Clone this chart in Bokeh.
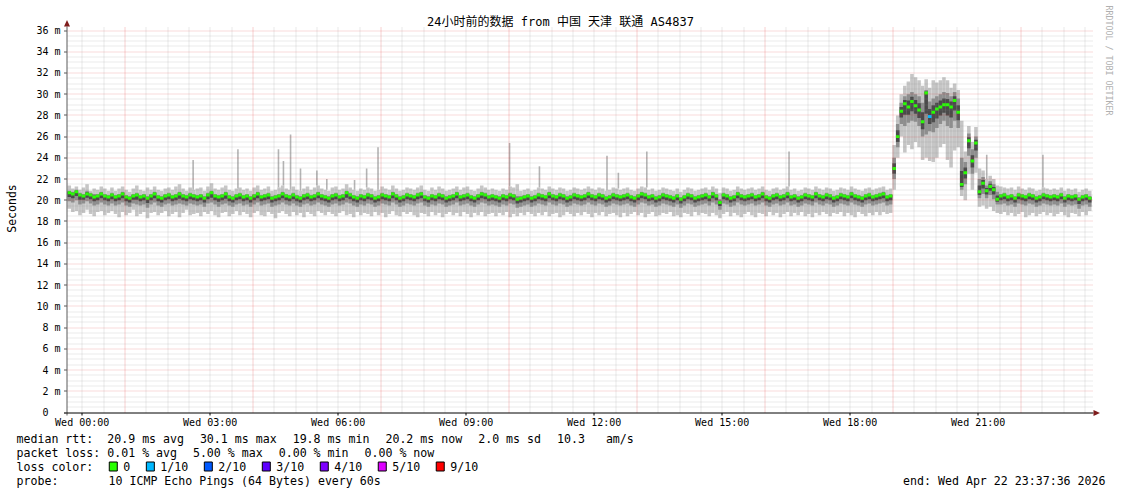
import math
from bokeh.plotting import figure
from bokeh.models import Range1d, FixedTicker, ColumnDataSource
from bokeh.core.properties import value
from bokeh.embed import file_html
from bokeh.resources import INLINE

# ---------------- data ----------------
END_TEXT = "end: Wed Apr 22 23:37:36 2026"
STEP_MIN = 5                      # one smoke column every 5 minutes
START_HOUR = -0.3445              # hours relative to Wed 00:00 (start of the 24h window)

median = [
    20.7, 20.6, 20.8, 20.5, 20.4, 20.6, 20.5, 20.3, 20.4, 20.6, 20.4, 20.3,
    20.5, 20.3, 20.4, 20.6, 20.3, 20.2, 20.4, 20.5, 20.3, 20.4, 20.2, 20.4,
    20.6, 20.3, 20.2, 20.4, 20.5, 20.3, 20.4, 20.6, 20.4, 20.3, 20.5, 20.4,
    20.3, 20.4, 20.2, 20.5, 20.7, 20.4, 20.3, 20.4, 20.6, 20.3, 20.2, 20.4,
    20.5, 20.3, 20.4, 20.2, 20.4, 20.6, 20.3, 20.4, 20.5, 20.2, 20.3, 20.4,
    20.6, 20.4, 20.3, 20.5, 20.3, 20.2, 20.4, 20.5, 20.3, 20.4, 20.6, 20.4,
    20.3, 20.2, 20.4, 20.5, 20.3, 20.4, 20.7, 20.5, 20.3, 20.2, 20.4, 20.3,
    20.5, 20.4, 20.2, 20.3, 20.5, 20.4, 20.3, 20.6, 20.4, 20.2, 20.3, 20.5,
    20.4, 20.3, 20.5, 20.6, 20.3, 20.2, 20.4, 20.3, 20.5, 20.4, 20.2, 20.3,
    20.4, 20.6, 20.3, 20.4, 20.5, 20.3, 20.2, 20.4, 20.6, 20.5, 20.3, 20.4,
    20.3, 20.2, 20.4, 20.3, 20.5, 20.4, 20.1, 20.2, 20.3, 20.4, 20.2, 20.3,
    20.5, 20.4, 20.3, 20.6, 20.4, 20.3, 20.5, 20.4, 20.2, 20.3, 20.5, 20.4,
    20.3, 20.4, 20.6, 20.4, 20.3, 20.5, 20.4, 20.2, 20.3, 20.5, 20.4, 20.3,
    20.4, 20.5, 20.3, 20.2, 20.4, 20.6, 20.5, 20.3, 20.4, 20.2, 20.3, 20.5,
    20.4, 20.3, 20.2, 20.4, 20.1, 20.3, 20.5, 20.4, 20.2, 20.3, 20.4, 20.5,
    20.3, 20.6, 20.4, 19.8, 20.5, 20.4, 20.2, 20.3, 20.6, 20.4, 20.3, 20.4,
    20.5, 20.3, 20.4, 20.6, 20.3, 20.2, 20.4, 20.5, 20.3, 20.4, 20.6, 20.3,
    20.4, 20.2, 20.3, 20.5, 20.4, 20.3, 20.6, 20.4, 20.3, 20.5, 20.4, 20.2,
    20.3, 20.5, 20.4, 20.3, 20.6, 20.4, 20.3, 20.2, 20.4, 20.5, 20.3, 20.4,
    20.5, 20.6, 20.3, 20.4, 23.0, 26.0, 28.4, 29.1, 28.8, 29.3, 28.9, 28.5,
    27.4, 30.1, 27.9, 28.3, 28.6, 28.8, 29.0, 29.0, 28.8, 29.4, 28.3, 21.5,
    22.6, 25.6, 23.7, 25.4, 20.8, 21.6, 20.9, 21.3, 21.0, 20.1, 20.4, 20.5,
    20.3, 20.4, 20.2, 20.5, 20.4, 20.3, 20.5, 20.4, 20.2, 20.3, 20.5, 20.4,
    20.3, 20.4, 20.3, 20.5, 20.2, 20.4, 20.3, 20.4, 20.1, 20.3, 20.4, 20.2,
]

smoke_lo = [
    19.2, 18.9, 19.0, 18.6, 18.8, 19.1, 18.7, 18.5, 18.9, 19.0, 18.6, 18.8,
    19.0, 18.7, 18.4, 18.9, 18.6, 18.8, 19.1, 18.5, 18.7, 18.9, 18.3, 18.8,
    18.9, 18.6, 18.8, 19.0, 18.5, 18.7, 18.9, 18.4, 18.8, 19.1, 18.6, 18.7,
    18.8, 18.5, 18.9, 18.7, 19.0, 18.6, 18.4, 18.8, 18.9, 18.5, 18.7, 19.0,
    18.6, 18.9, 18.7, 18.4, 18.8, 19.0, 18.6, 18.5, 18.9, 18.7, 18.3, 18.8,
    19.0, 18.7, 18.5, 18.9, 18.6, 18.8, 18.4, 18.9, 18.7, 18.5, 19.0, 18.8,
    18.6, 18.9, 18.7, 18.5, 18.8, 19.0, 18.6, 18.7, 18.4, 18.9, 18.6, 18.8,
    18.7, 18.5, 18.9, 18.6, 18.8, 18.4, 18.7, 19.0, 18.6, 18.5, 18.9, 18.7,
    18.9, 18.6, 18.4, 18.8, 18.7, 18.5, 18.9, 18.6, 18.8, 18.4, 18.7, 18.9,
    18.6, 18.8, 18.5, 18.9, 18.7, 18.4, 18.8, 18.6, 18.9, 18.5, 18.7, 18.8,
    18.5, 18.8, 18.6, 18.9, 18.4, 18.7, 18.5, 18.8, 18.6, 18.9, 18.7, 18.5,
    18.8, 18.6, 18.9, 18.5, 18.7, 18.8, 18.4, 18.6, 18.9, 18.7, 18.5, 18.8,
    18.6, 18.9, 18.7, 18.4, 18.8, 18.6, 18.9, 18.5, 18.7, 18.8, 18.6, 18.4,
    18.8, 18.5, 18.7, 18.9, 18.6, 18.8, 18.4, 18.7, 18.9, 18.5, 18.6, 18.8,
    18.7, 18.9, 18.5, 18.6, 18.4, 18.8, 18.7, 18.5, 18.9, 18.6, 18.8, 18.7,
    18.5, 18.8, 18.6, 18.3, 18.7, 18.9, 18.5, 18.8, 18.6, 18.4, 18.7, 18.9,
    18.6, 18.4, 18.8, 18.7, 18.5, 18.9, 18.6, 18.8, 18.4, 18.7, 18.9, 18.5,
    18.8, 18.6, 18.9, 18.5, 18.7, 18.4, 18.8, 18.6, 18.9, 18.7, 18.5, 18.8,
    18.7, 18.9, 18.5, 18.8, 18.6, 18.4, 18.9, 18.7, 18.5, 18.8, 18.6, 18.9,
    18.6, 18.9, 18.7, 18.8, 21.0, 24.0, 26.0, 24.5, 25.2, 24.8, 25.5, 25.0,
    23.8, 24.0, 23.7, 23.6, 24.0, 25.0, 25.3, 23.8, 23.1, 24.7, 25.0, 20.4,
    20.0, 22.5, 21.0, 22.6, 19.4, 19.5, 19.2, 19.4, 19.0, 18.8, 18.7, 18.9,
    18.6, 18.8, 18.5, 18.7, 18.9, 18.4, 18.6, 18.8, 18.5, 18.7, 18.9, 18.6,
    18.8, 18.5, 18.7, 18.9, 18.6, 18.4, 18.8, 18.7, 18.5, 18.9, 18.6, 19.0,
]

smoke_hi = [
    21.4, 21.1, 21.3, 21.0, 21.2, 21.5, 20.9, 21.1, 21.0, 21.3, 21.1, 20.9,
    21.2, 20.9, 21.1, 21.3, 21.0, 20.8, 21.1, 21.4, 21.0, 20.9, 21.2, 21.0,
    21.3, 21.0, 20.9, 21.1, 21.2, 21.0, 21.3, 21.5, 21.1, 20.9, 21.2, 21.0,
    21.1, 21.2, 20.9, 21.3, 21.6, 21.1, 21.0, 21.2, 21.4, 21.0, 20.9, 21.1,
    21.2, 21.0, 21.1, 20.9, 21.2, 21.4, 21.0, 21.1, 21.3, 20.9, 21.0, 21.2,
    21.4, 21.1, 21.0, 21.3, 21.0, 20.9, 21.1, 21.3, 21.0, 21.2, 21.4, 21.1,
    21.0, 20.9, 21.2, 21.3, 21.0, 21.1, 21.5, 21.2, 21.0, 20.9, 21.1, 21.0,
    21.2, 21.1, 20.9, 21.0, 21.3, 21.1, 21.0, 21.4, 21.1, 20.9, 21.0, 21.2,
    21.1, 21.0, 21.2, 21.4, 21.0, 20.9, 21.2, 21.0, 21.3, 21.1, 20.9, 21.0,
    21.1, 21.3, 21.0, 21.2, 21.3, 21.0, 20.9, 21.1, 21.4, 21.2, 21.0, 21.1,
    21.0, 20.9, 21.1, 21.0, 21.3, 21.2, 21.5, 20.9, 21.0, 21.1, 20.9, 21.0,
    21.2, 21.1, 21.0, 21.3, 21.1, 21.0, 21.2, 21.1, 20.9, 21.0, 21.2, 21.1,
    21.0, 21.1, 21.3, 21.1, 21.0, 21.2, 21.1, 20.9, 21.0, 21.2, 21.1, 21.0,
    21.1, 21.2, 21.0, 20.9, 21.1, 21.3, 21.2, 21.0, 21.1, 20.9, 21.0, 21.2,
    21.1, 21.0, 20.9, 21.1, 20.8, 21.0, 21.2, 21.1, 20.9, 21.0, 21.1, 21.2,
    21.0, 21.3, 21.1, 20.7, 21.2, 21.1, 20.9, 21.0, 21.3, 21.1, 21.0, 21.1,
    21.2, 21.0, 21.1, 21.3, 21.0, 20.9, 21.1, 21.2, 21.0, 21.1, 21.3, 21.0,
    21.1, 20.9, 21.0, 21.2, 21.1, 21.0, 21.3, 21.1, 21.0, 21.2, 21.1, 20.9,
    21.0, 21.2, 21.1, 21.0, 21.3, 21.1, 21.0, 20.9, 21.1, 21.2, 21.0, 21.1,
    21.2, 21.3, 21.0, 21.1, 25.2, 28.0, 30.0, 30.8, 31.2, 31.9, 31.6, 31.3,
    30.8, 31.4, 30.6, 31.3, 31.1, 31.3, 31.6, 31.3, 30.6, 31.0, 30.4, 27.5,
    24.6, 27.0, 25.5, 26.9, 23.0, 22.8, 22.0, 22.3, 22.0, 21.4, 21.3, 21.2,
    21.1, 21.2, 21.0, 21.3, 21.1, 21.0, 21.2, 21.1, 20.9, 21.0, 21.2, 21.1,
    21.0, 21.1, 21.0, 21.2, 20.9, 21.1, 21.0, 21.1, 20.8, 21.0, 21.1, 20.9,
]

inner_lo = [
    19.9, 19.8, 20.0, 19.6, 19.7, 19.9, 19.7, 19.5, 19.6, 19.8, 19.6, 19.5,
    19.7, 19.5, 19.6, 19.8, 19.5, 19.4, 19.7, 19.6, 19.5, 19.6, 19.3, 19.6,
    19.8, 19.5, 19.4, 19.6, 19.7, 19.5, 19.6, 19.7, 19.6, 19.5, 19.7, 19.6,
    19.5, 19.6, 19.4, 19.7, 19.8, 19.6, 19.4, 19.6, 19.7, 19.5, 19.4, 19.6,
    19.7, 19.5, 19.6, 19.4, 19.6, 19.8, 19.5, 19.6, 19.7, 19.4, 19.5, 19.6,
    19.8, 19.6, 19.5, 19.7, 19.5, 19.4, 19.6, 19.7, 19.5, 19.6, 19.8, 19.6,
    19.5, 19.4, 19.6, 19.7, 19.5, 19.6, 19.8, 19.7, 19.5, 19.4, 19.6, 19.5,
    19.7, 19.6, 19.4, 19.5, 19.7, 19.6, 19.5, 19.8, 19.6, 19.4, 19.5, 19.7,
    19.6, 19.5, 19.7, 19.8, 19.5, 19.4, 19.6, 19.5, 19.7, 19.6, 19.4, 19.5,
    19.6, 19.8, 19.5, 19.6, 19.7, 19.5, 19.4, 19.6, 19.8, 19.7, 19.5, 19.6,
    19.5, 19.4, 19.6, 19.5, 19.7, 19.6, 19.3, 19.4, 19.5, 19.6, 19.4, 19.5,
    19.7, 19.6, 19.5, 19.8, 19.6, 19.5, 19.7, 19.6, 19.4, 19.5, 19.7, 19.6,
    19.5, 19.6, 19.8, 19.6, 19.5, 19.7, 19.6, 19.4, 19.5, 19.7, 19.6, 19.5,
    19.6, 19.7, 19.5, 19.4, 19.6, 19.8, 19.7, 19.5, 19.6, 19.4, 19.5, 19.7,
    19.6, 19.5, 19.4, 19.6, 19.3, 19.5, 19.7, 19.6, 19.4, 19.5, 19.6, 19.7,
    19.5, 19.8, 19.6, 19.1, 19.7, 19.6, 19.4, 19.5, 19.8, 19.6, 19.5, 19.6,
    19.7, 19.5, 19.6, 19.8, 19.5, 19.4, 19.6, 19.7, 19.5, 19.6, 19.8, 19.5,
    19.6, 19.4, 19.5, 19.7, 19.6, 19.5, 19.8, 19.6, 19.5, 19.7, 19.6, 19.4,
    19.5, 19.7, 19.6, 19.5, 19.8, 19.6, 19.5, 19.4, 19.6, 19.7, 19.5, 19.6,
    19.7, 19.8, 19.5, 19.6, 22.0, 25.0, 27.2, 27.0, 27.3, 27.5, 27.4, 27.0,
    26.0, 26.2, 26.5, 26.4, 26.8, 27.2, 27.5, 27.0, 26.8, 27.5, 26.8, 21.0,
    21.5, 24.2, 22.5, 24.0, 20.2, 20.6, 20.2, 20.5, 20.1, 19.6, 19.6, 19.7,
    19.5, 19.6, 19.4, 19.7, 19.6, 19.5, 19.7, 19.6, 19.4, 19.5, 19.7, 19.6,
    19.5, 19.6, 19.5, 19.7, 19.4, 19.6, 19.5, 19.6, 19.2, 19.5, 19.6, 19.4,
]

inner_hi = [
    20.9, 20.8, 21.0, 20.7, 20.6, 20.9, 20.7, 20.6, 20.6, 20.8, 20.6, 20.5,
    20.7, 20.5, 20.6, 20.8, 20.5, 20.4, 20.6, 20.7, 20.5, 20.6, 20.4, 20.6,
    20.8, 20.5, 20.4, 20.6, 20.7, 20.5, 20.6, 20.8, 20.6, 20.5, 20.7, 20.6,
    20.5, 20.6, 20.4, 20.7, 20.9, 20.6, 20.5, 20.6, 20.8, 20.5, 20.4, 20.6,
    20.7, 20.5, 20.6, 20.4, 20.6, 20.8, 20.5, 20.6, 20.7, 20.4, 20.5, 20.6,
    20.8, 20.6, 20.5, 20.7, 20.5, 20.4, 20.6, 20.7, 20.5, 20.6, 20.8, 20.6,
    20.5, 20.4, 20.6, 20.7, 20.5, 20.6, 20.9, 20.7, 20.5, 20.4, 20.6, 20.5,
    20.7, 20.6, 20.4, 20.5, 20.7, 20.6, 20.5, 20.8, 20.6, 20.4, 20.5, 20.7,
    20.6, 20.5, 20.7, 20.8, 20.5, 20.4, 20.6, 20.5, 20.7, 20.6, 20.4, 20.5,
    20.6, 20.8, 20.5, 20.6, 20.7, 20.5, 20.4, 20.6, 20.8, 20.7, 20.5, 20.6,
    20.5, 20.4, 20.6, 20.5, 20.7, 20.6, 20.4, 20.4, 20.5, 20.6, 20.4, 20.5,
    20.7, 20.6, 20.5, 20.8, 20.6, 20.5, 20.7, 20.6, 20.4, 20.5, 20.7, 20.6,
    20.5, 20.6, 20.8, 20.6, 20.5, 20.7, 20.6, 20.4, 20.5, 20.7, 20.6, 20.5,
    20.6, 20.7, 20.5, 20.4, 20.6, 20.8, 20.7, 20.5, 20.6, 20.4, 20.5, 20.7,
    20.6, 20.5, 20.4, 20.6, 20.3, 20.5, 20.7, 20.6, 20.4, 20.5, 20.6, 20.7,
    20.5, 20.8, 20.6, 20.1, 20.7, 20.6, 20.4, 20.5, 20.8, 20.6, 20.5, 20.6,
    20.7, 20.5, 20.6, 20.8, 20.5, 20.4, 20.6, 20.7, 20.5, 20.6, 20.8, 20.5,
    20.6, 20.4, 20.5, 20.7, 20.6, 20.5, 20.8, 20.6, 20.5, 20.7, 20.6, 20.4,
    20.5, 20.7, 20.6, 20.5, 20.8, 20.6, 20.5, 20.4, 20.6, 20.7, 20.5, 20.6,
    20.7, 20.8, 20.5, 20.6, 24.0, 27.2, 29.2, 29.8, 30.0, 30.2, 30.0, 29.8,
    29.2, 30.4, 29.3, 29.6, 29.8, 30.0, 30.2, 30.1, 29.8, 30.2, 29.6, 24.0,
    23.6, 26.3, 24.8, 26.0, 22.0, 22.2, 21.4, 21.8, 21.5, 20.8, 20.6, 20.7,
    20.5, 20.6, 20.4, 20.7, 20.6, 20.5, 20.7, 20.6, 20.4, 20.5, 20.7, 20.6,
    20.5, 20.6, 20.5, 20.7, 20.4, 20.6, 20.5, 20.6, 20.3, 20.5, 20.6, 20.4,
]

loss_bins = [242]          # column index with packet loss
loss_counts = [1]          # lost pings out of 10

spike_times = ["02:36", "03:39", "04:36", "04:43", "04:53", "05:07", "05:30", "05:44",
               "06:23", "06:40", "06:56", "10:01", "10:43", "12:18", "12:34", "13:14",
               "16:34", "21:12", "22:31"]
spike_tops = [23.8, 24.8, 24.8, 23.7, 26.2, 23.0, 22.8, 22.0,
              21.9, 23.0, 25.0, 25.4, 23.2, 24.2, 22.6, 24.6,
              24.6, 24.3, 24.3]

x_tick_hours = [0, 3, 6, 9, 12, 15, 18, 21]
x_tick_labels = ["Wed 00:00", "Wed 03:00", "Wed 06:00", "Wed 09:00",
                 "Wed 12:00", "Wed 15:00", "Wed 18:00", "Wed 21:00"]
y_tick_values = [0, 2, 4, 6, 8, 10, 12, 14, 16, 18, 20, 22, 24, 26, 28, 30, 32, 34, 36]
y_tick_labels = ["0\u00a0\u00a0", "2 m", "4 m", "6 m", "8 m", "10 m", "12 m", "14 m", "16 m",
                 "18 m", "20 m", "22 m", "24 m", "26 m", "28 m", "30 m", "32 m", "34 m", "36 m"]
major_grid_hours = [1, 4, 7, 10, 13, 16, 19, 22]

loss_legend_labels = ["0", "1/10", "2/10", "3/10", "4/10", "5/10", "9/10"]
loss_legend_counts = [0, 1, 2, 3, 4, 5, 9]
loss_legend_colors = ["#26ff00", "#00b8ff", "#0059ff", "#5e00ff", "#7e00ff", "#dd00ff", "#ff0000"]

TITLE = "24小时前的数据 from 中国 天津 联通 AS4837"
rtt_items = ["median rtt:  20.9 ms avg", "30.1 ms max", "19.8 ms min", "20.2 ms now",
             "2.0 ms sd", "10.3   am/s"]
loss_items = ["packet loss: 0.01 % avg", "5.00 % max", "0.00 % min", "0.00 % now"]
color_head = "loss color:"
probe_head = "probe:"
probe_text = "10 ICMP Echo Pings (64 Bytes) every 60s"

# ---------------- layout (page pixels) ----------------
PX_H = 1024 / 24.0        # pixels per hour
PX_MS = 382 / 36.0        # pixels per millisecond
AX_X, AX_Y = 67, 412      # axis origin on the page
GRAPH_RIGHT = 1093
GRAPH_TOP = 26
MONO = "DejaVu Sans Mono"
CHAR_W = 6.97             # advance of the 11.6px mono legend font
ITEM_GAP = 16.1           # rrdtool gap between legend items


def dx(sx):
    return START_HOUR + (sx - AX_X) / PX_H


def dy(sy):
    return (AX_Y - sy) / PX_MS


def sx_of(h):
    return AX_X + (h - START_HOUR) * PX_H


def sy_of(v):
    return AX_Y - v * PX_MS


n = len(median)
assert all(len(a) == n for a in (smoke_lo, smoke_hi, inner_lo, inner_hi))
step_h = STEP_MIN / 60.0
left = [START_HOUR + i * step_h for i in range(n)]
right = [l + step_h for l in left]
core_lo = [(a + m) / 2 for a, m in zip(inner_lo, median)]
core_hi = [(b + m) / 2 for b, m in zip(inner_hi, median)]
loss = [0] * n
for b, c in zip(loss_bins, loss_counts):
    loss[b] = c
col_of = dict(zip(loss_legend_counts, loss_legend_colors))
med_color = [col_of.get(c, "#ff0000") for c in loss]

src = ColumnDataSource(dict(left=left, right=right, lo=smoke_lo, hi=smoke_hi,
                            ilo=inner_lo, ihi=inner_hi, clo=core_lo, chi=core_hi,
                            med_lo=[m - 0.14 for m in median], med_hi=[m + 0.14 for m in median],
                            mcol=med_color))

W, H_MAIN, H_LEG = 1121, 432, 62
FRAME_L, FRAME_B = 63, 416
p = figure(width=W, height=H_MAIN, frame_width=W - FRAME_L, frame_height=FRAME_B,
           min_border_left=FRAME_L, min_border_right=0, min_border_top=0, min_border_bottom=H_MAIN - FRAME_B,
           x_range=Range1d(dx(FRAME_L), dx(W)), y_range=Range1d(dy(FRAME_B), dy(0)),
           output_backend="svg", toolbar_location=None, title_location=None)
p.background_fill_color = "white"
p.border_fill_color = "white"
p.outline_line_color = None
p.xgrid.visible = False
p.ygrid.visible = False

# smoke
p.quad(left="left", right="right", bottom="lo", top="hi", source=src, fill_color="#c6c6c6", line_color=None)
sp_x, sp_base = [], []
for t in spike_times:
    hh, mm = t.split(":")
    h = int(hh) + int(mm) / 60.0
    sp_x.append(h)
    sp_base.append(smoke_hi[min(n - 1, int((h - START_HOUR) / step_h))])
p.segment(x0=sp_x, x1=sp_x, y0=sp_base, y1=spike_tops, line_color="#b4b4b4", line_width=1.6)
p.quad(left="left", right="right", bottom="ilo", top="ihi", source=src, fill_color="#8e8e8e", line_color=None)
p.quad(left="left", right="right", bottom="clo", top="chi", source=src, fill_color="#4a4a4a", line_color=None)
p.quad(left="left", right="right", bottom="med_lo", top="med_hi", source=src, fill_color="mcol", line_color=None)


# grid (dotted, drawn over the smoke like rrdtool), snapped to pixel centres
def snap_x(h):
    return dx(round(sx_of(h) - 0.5) + 0.5)


def snap_y(v):
    return dy(round(sy_of(v) - 0.5) + 0.5)


minor_x = [k * 0.5 for k in range(0, 48) if k * 0.5 not in major_grid_hours]
major_y = [v for v in y_tick_values if v > 0]
minor_y = [k * 0.5 for k in range(1, 73) if k * 0.5 not in y_tick_values]
y_top, x_end = dy(GRAPH_TOP), dx(GRAPH_RIGHT)
for xs, colr, alpha in ((minor_x, "#8c8c8c", 0.4), (major_grid_hours, "#e03030", 0.45)):
    xx = [snap_x(h) for h in xs]
    p.segment(x0=xx, x1=xx, y0=[0] * len(xx), y1=[y_top] * len(xx),
              line_color=colr, line_alpha=alpha, line_width=1, line_dash="1 1")
for ys, colr, alpha in ((minor_y, "#8c8c8c", 0.35), (major_y, "#e03030", 0.35)):
    yy = [snap_y(v) for v in ys]
    p.segment(x0=[START_HOUR] * len(yy), x1=[x_end] * len(yy), y0=yy, y1=yy,
              line_color=colr, line_alpha=alpha, line_width=1, line_dash="1 1")

# axis lines, tick marks and arrow heads (the Bokeh axes carry the tick labels)
ax_x, ax_y = dx(66.5), dy(412.5)
p.segment(x0=[ax_x], x1=[ax_x], y0=[dy(415)], y1=[dy(GRAPH_TOP)], line_color="#5a5a5a", line_width=1)
p.segment(x0=[dx(63.5)], x1=[dx(GRAPH_RIGHT)], y0=[ax_y], y1=[ax_y], line_color="#000000", line_width=1)
yt = [snap_y(v) for v in y_tick_values]
p.segment(x0=[dx(63.5)] * len(yt), x1=[ax_x] * len(yt), y0=yt, y1=yt, line_color="#5a5a5a", line_width=1)
xt = [snap_x(h) for h in x_tick_hours]
p.segment(x0=xt, x1=xt, y0=[ax_y] * len(xt), y1=[dy(415)] * len(xt), line_color="#000000", line_width=1)
p.patch(x=[dx(63.5), dx(66.5), dx(69.5)], y=[dy(26), dy(19.5), dy(26)], fill_color="#7f1d1d", line_color=None)
p.patch(x=[dx(1093), dx(1099.5), dx(1093)], y=[dy(409.5), dy(412.5), dy(415.5)], fill_color="#7f1d1d", line_color=None)

p.xaxis.ticker = FixedTicker(ticks=x_tick_hours)
p.xaxis.major_label_overrides = dict(zip(x_tick_hours, x_tick_labels))
p.yaxis.ticker = FixedTicker(ticks=y_tick_values)
p.yaxis.major_label_overrides = dict(zip(y_tick_values, y_tick_labels))
for ax in (p.xaxis[0], p.yaxis[0]):
    ax.major_label_text_font = MONO
    ax.major_label_text_font_size = "10px"
    ax.major_label_text_color = "#000000"
    ax.axis_line_color = None
    ax.major_tick_line_color = None
    ax.minor_tick_line_color = None
    ax.major_tick_in = 0
    ax.major_tick_out = 0
p.xaxis.major_label_standoff = 0
p.yaxis.major_label_standoff = 3
p.yaxis.axis_label = "Seconds"
p.yaxis.axis_label_text_font = MONO
p.yaxis.axis_label_text_font_size = "11.5px"
p.yaxis.axis_label_text_font_style = "normal"
p.yaxis.axis_label_text_color = "#000000"
p.yaxis.axis_label_standoff = 14

# title and credit
p.text(x=[dx(560)], y=[dy(21)], text=[TITLE], text_font=value(MONO + ", Noto Sans CJK SC"),
       text_font_size="12px", text_align="center", text_baseline="middle", text_color="#000000")
p.text(x=[dx(1108)], y=[dy(5)], text=["RRDTOOL / TOBI OETIKER"], text_font=value(MONO),
       text_font_size="8.3px", text_align="left", text_baseline="middle", text_color="#b0b0b0",
       angle=-math.pi / 2)

# ---------------- legend strip (second root, directly below) ----------------
q = figure(width=W, height=H_LEG, frame_width=W, frame_height=H_LEG, min_border=0,
           x_range=Range1d(0, W), y_range=Range1d(H_MAIN + H_LEG, H_MAIN),
           x_axis_type=None, y_axis_type=None,
           output_backend="svg", toolbar_location=None, title_location=None)
q.background_fill_color = "white"
q.border_fill_color = "white"
q.outline_line_color = None

nb = "\u00a0"
t_x, t_y, t_s, t_a = [], [], [], []


def add_items(items, y, x0=16):
    x = x0
    for s in items:
        t_x.append(x)
        t_y.append(y)
        t_s.append(s.replace(" ", nb))
        t_a.append("left")
        x += len(s) * CHAR_W + ITEM_GAP
    return x


add_items(rtt_items, 438)
add_items(loss_items, 452)
bx0 = add_items([color_head], 466)
add_items([probe_head], 480)
add_items([probe_text], 480, x0=108)
t_x.append(1105)
t_y.append(480)
t_s.append(END_TEXT.replace(" ", nb))
t_a.append("right")

bx, lab_x = [], []
x = bx0
for lab in loss_legend_labels:
    bx.append(x)
    lab_x.append(x + 14)
    x = x + 14 + len(lab) * CHAR_W + ITEM_GAP

q.text(x=t_x, y=t_y, text=t_s, text_align=t_a, text_font=value(MONO), text_font_size="11.6px",
       text_baseline="middle", text_color="#000000")
q.quad(left=bx, right=[b + 8 for b in bx], top=[461.5] * len(bx), bottom=[470.5] * len(bx),
       fill_color=loss_legend_colors, line_color="#000000", line_width=1)
q.text(x=lab_x, y=[466] * len(bx), text=loss_legend_labels, text_font=value(MONO),
       text_font_size="11.6px", text_baseline="middle", text_color="#000000")

open("out.html", "w").write(file_html([p, q], INLINE))
